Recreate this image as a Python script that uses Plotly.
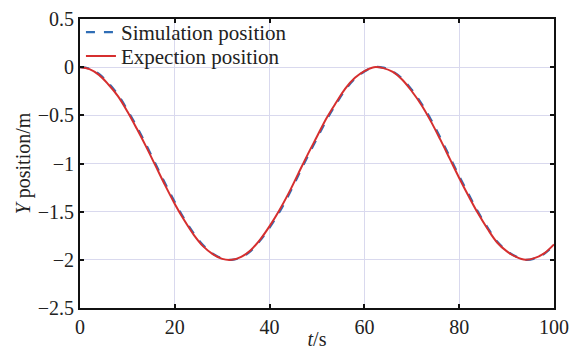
import plotly.graph_objects as go

t = list(range(0, 101, 2))
expection = [0.00, -0.02, -0.08, -0.18, -0.30, -0.46, -0.64, -0.83, -1.03, -1.23,
             -1.42, -1.59, -1.74, -1.86, -1.94, -1.99, -2.00, -1.97, -1.90, -1.79,
             -1.65, -1.49, -1.31, -1.11, -0.91, -0.72, -0.53, -0.37, -0.22, -0.11,
             -0.04, -0.00, -0.01, -0.05, -0.13, -0.25, -0.39, -0.56, -0.75, -0.95,
             -1.15, -1.34, -1.52, -1.68, -1.82, -1.91, -1.97, -2.00, -1.98, -1.93,
             -1.84]
simulation = [0.00, -0.015, -0.07, -0.165, -0.285, -0.445, -0.62, -0.81, -1.01, -1.21,
              -1.40, -1.575, -1.725, -1.85, -1.935, -1.985, -2.00, -1.975, -1.91, -1.80,
              -1.665, -1.51, -1.33, -1.13, -0.93, -0.74, -0.55, -0.385, -0.235, -0.12,
              -0.045, -0.00, -0.005, -0.045, -0.12, -0.235, -0.375, -0.54, -0.73, -0.93,
              -1.13, -1.32, -1.505, -1.665, -1.81, -1.905, -1.965, -2.00, -1.985, -1.935,
              -1.85]
x_ticks = [0, 20, 40, 60, 80, 100]
y_ticks = [0.5, 0, -0.5, -1, -1.5, -2, -2.5]
y_tick_text = ["0.5", "0", "\u22120.5", "\u22121", "\u22121.5", "\u22122", "\u22122.5"]

font = dict(family="Liberation Serif, Times New Roman, serif", size=20, color="#222")
legend_font = dict(family="Liberation Serif, Times New Roman, serif", size=21, color="#222")

fig = go.Figure()
fig.add_trace(go.Scatter(x=t, y=simulation, mode="lines", name="Simulation position",
                         legend="legend",
                         line=dict(color="#2f6db5", width=2.2, dash="dash", shape="spline")))
fig.add_trace(go.Scatter(x=t, y=expection, mode="lines", name="Expection position",
                         legend="legend2",
                         line=dict(color="#d62f2f", width=2, shape="spline")))

axis_common = dict(showline=True, linecolor="#111", linewidth=2, mirror="ticks",
                   ticks="inside", ticklen=4, tickwidth=2, tickcolor="#111",
                   showgrid=True, gridcolor="#d9d9ee", gridwidth=1, zeroline=False,
                   tickfont=font, automargin=False)
fig.update_xaxes(range=[0, 100], tickvals=x_ticks,
                 title=dict(text="<i>t</i>/s", font=font, standoff=0), **axis_common)
fig.update_yaxes(range=[-2.5, 0.5], tickvals=y_ticks, ticktext=y_tick_text,
                 title=dict(text="<i>Y</i> position/m", font=font, standoff=2), **axis_common)

legend_common = dict(x=0.002, xanchor="left", yanchor="top", bgcolor="rgba(0,0,0,0)",
                     font=legend_font, itemwidth=30)
fig.update_layout(
    width=575, height=350,
    margin=dict(l=80, r=21, t=16, b=42),
    paper_bgcolor="white", plot_bgcolor="white",
    font=font,
    showlegend=True,
    legend=dict(y=1.024, **legend_common),
    legend2=dict(y=0.942, **legend_common),
)
fig.write_html("out.html")
